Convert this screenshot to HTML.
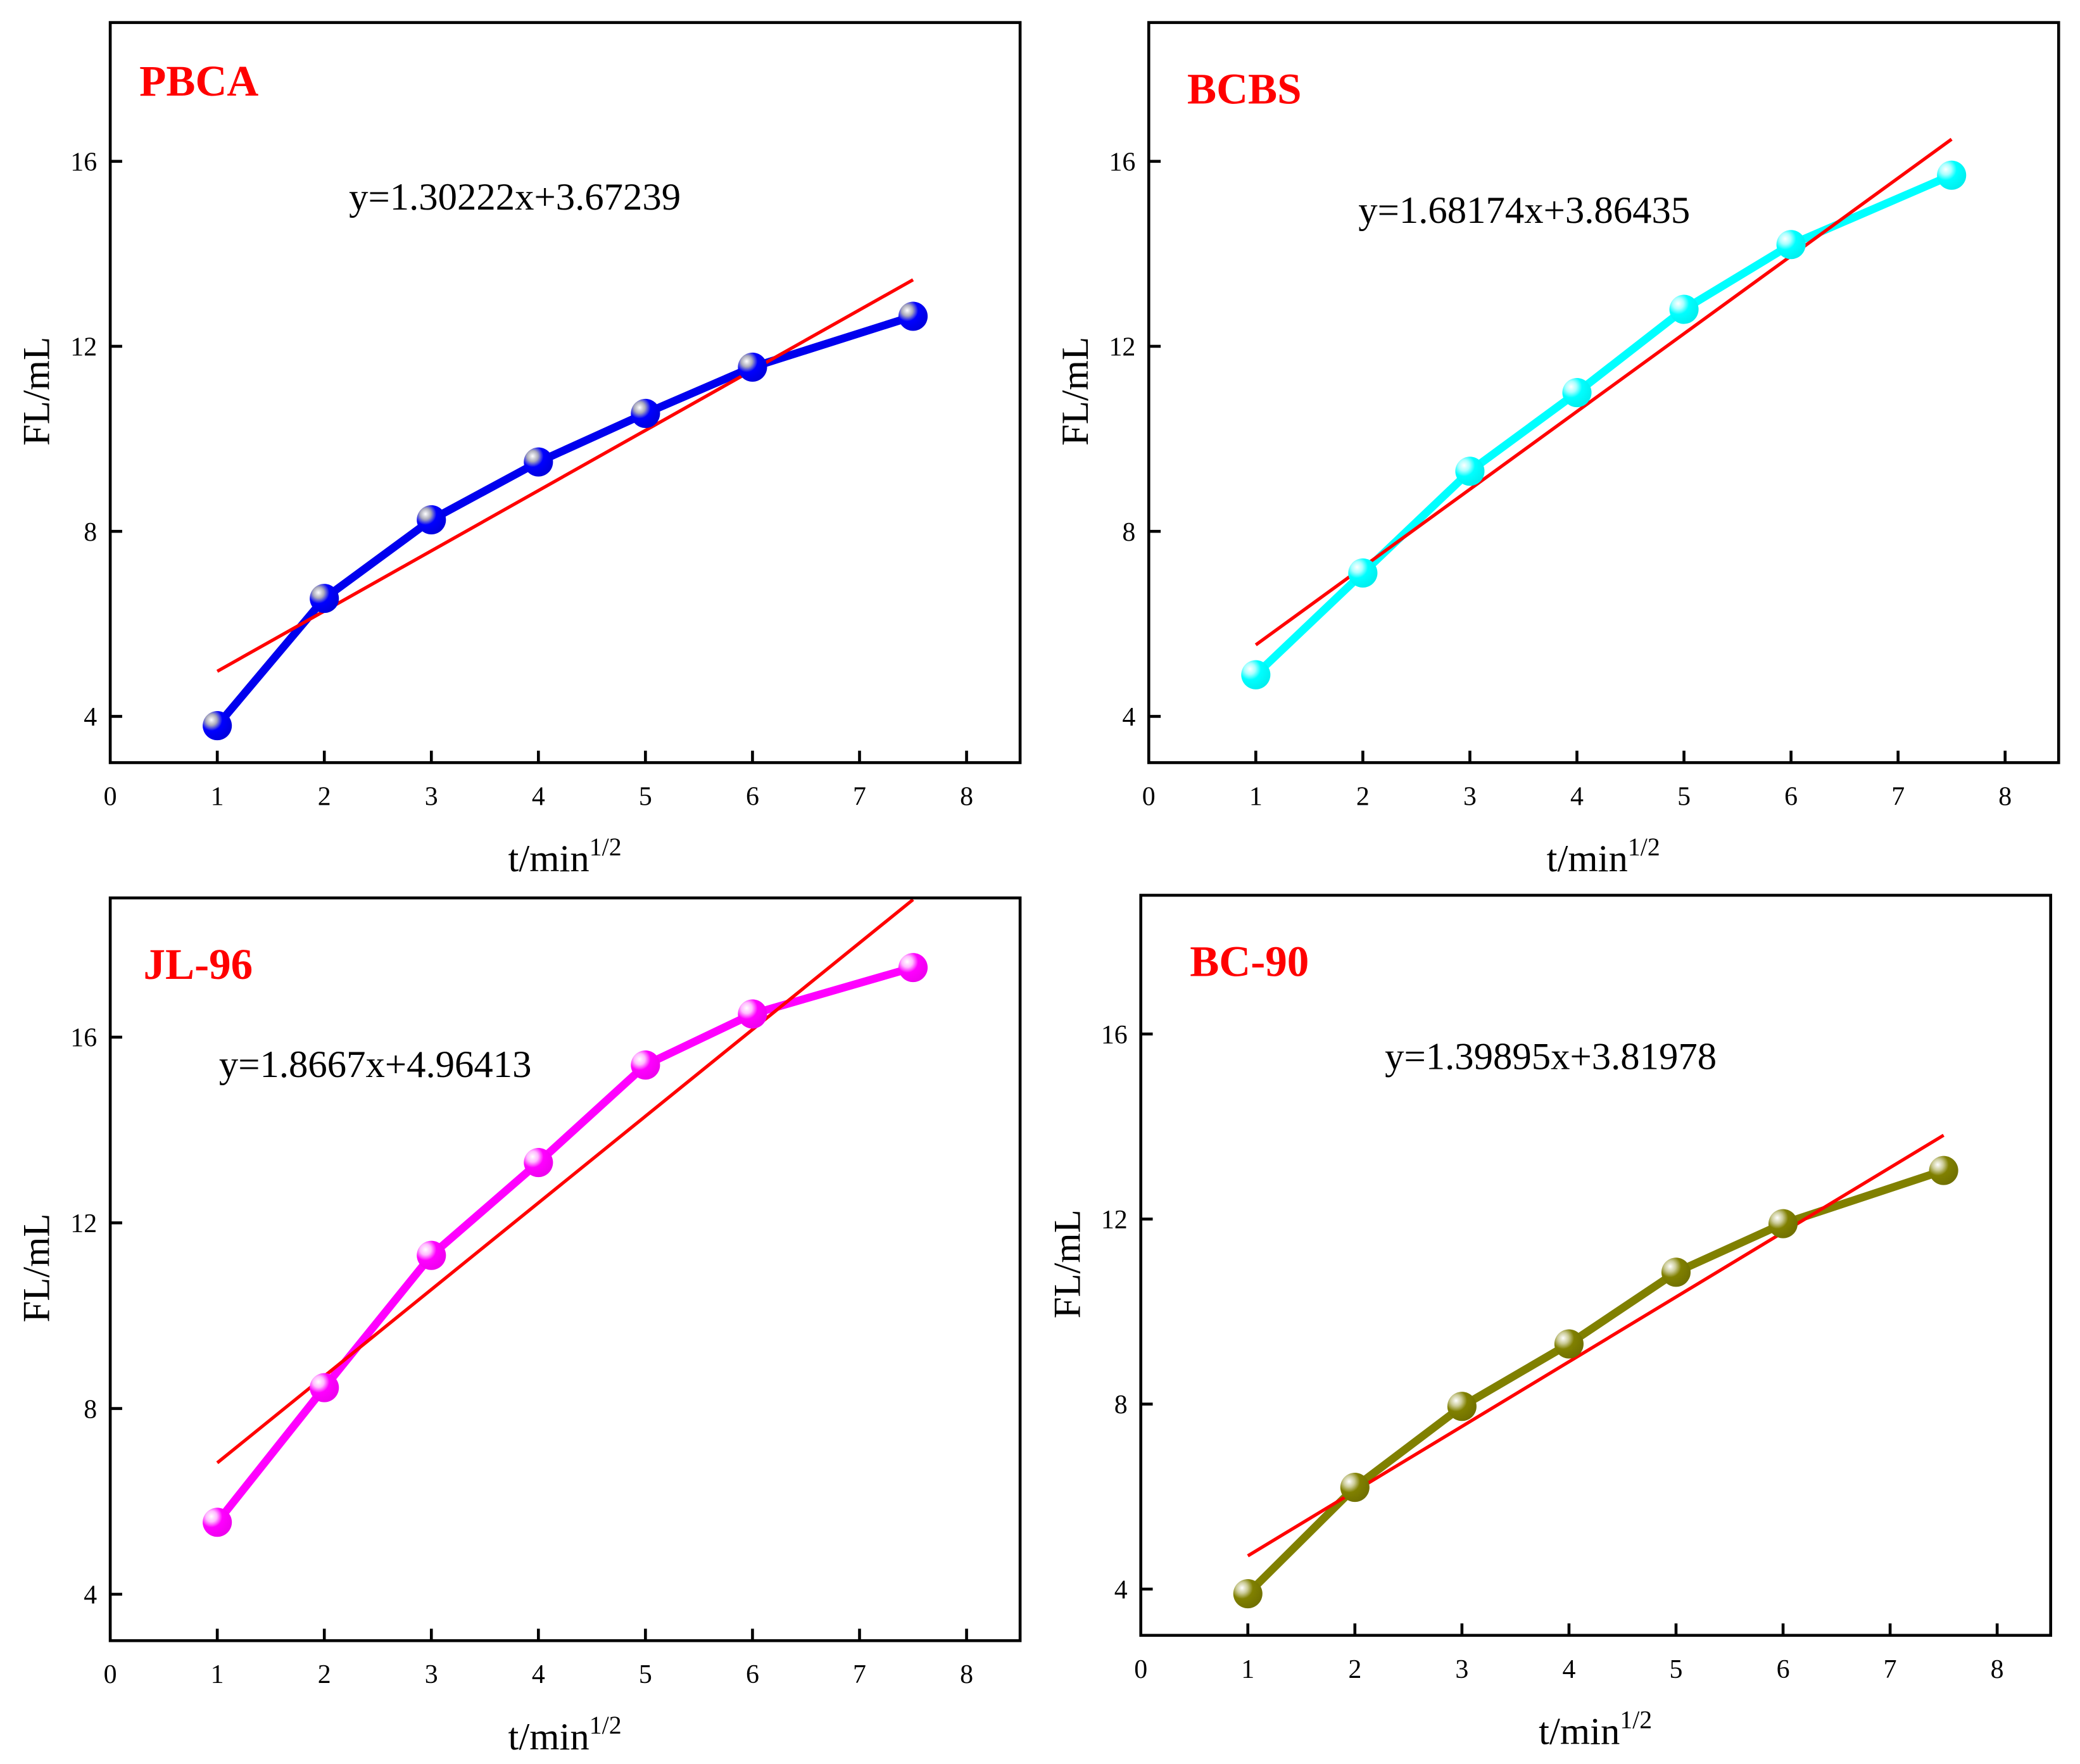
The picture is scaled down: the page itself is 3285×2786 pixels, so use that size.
<!DOCTYPE html>
<html><head><meta charset="utf-8"><style>
html,body{margin:0;padding:0;background:#fff;}
svg{display:block;}
text{font-family:"Liberation Serif",serif;}
</style></head><body>
<svg id="fig" width="3285" height="2786" viewBox="0 0 1568 1330" xmlns="http://www.w3.org/2000/svg">
<defs>
<radialGradient id="gB" cx="0.3" cy="0.3" r="0.75"><stop offset="0" stop-color="#fff"/><stop offset="0.25" stop-color="#aab" /><stop offset="0.5" stop-color="#0000ff"/><stop offset="1" stop-color="#0000dd"/></radialGradient>
<radialGradient id="gC" cx="0.3" cy="0.3" r="0.75"><stop offset="0" stop-color="#fff"/><stop offset="0.25" stop-color="#aff"/><stop offset="0.5" stop-color="#00ffff"/><stop offset="1" stop-color="#00eeee"/></radialGradient>
<radialGradient id="gM" cx="0.3" cy="0.3" r="0.75"><stop offset="0" stop-color="#fff"/><stop offset="0.25" stop-color="#fbf"/><stop offset="0.5" stop-color="#ff00ff"/><stop offset="1" stop-color="#ee00ee"/></radialGradient>
<radialGradient id="gO" cx="0.3" cy="0.3" r="0.75"><stop offset="0" stop-color="#fff"/><stop offset="0.25" stop-color="#cc9"/><stop offset="0.5" stop-color="#808000"/><stop offset="1" stop-color="#707000"/></radialGradient>
</defs>
</svg>
<script>
const xs = [1, 2, 3, 4, 5, 6, 7.5];
const pbcaValues = [3.8, 6.55, 8.25, 9.5, 10.55, 11.55, 12.65];
const bcbsValues = [4.9, 7.1, 9.3, 11.0, 12.8, 14.2, 15.7];
const jl96Values = [5.55, 8.45, 11.3, 13.3, 15.4, 16.5, 17.5];
const bc90Values = [3.9, 6.2, 7.95, 9.3, 10.85, 11.9, 13.05];
const slopes = [1.30222, 1.68174, 1.8667, 1.39895];
const intercepts = [3.67239, 3.86435, 4.96413, 3.32];
const equations = ["y=1.30222x+3.67239", "y=1.68174x+3.86435", "y=1.8667x+4.96413", "y=1.39895x+3.81978"];
const titles = ["PBCA", "BCBS", "JL-96", "BC-90"];
const xTicks = [0, 1, 2, 3, 4, 5, 6, 7, 8];
const yTicks = [4, 8, 12, 16];

const NS = "http://www.w3.org/2000/svg";
const svg = document.getElementById('fig');
function mk(tag, attrs, parent, txt) {
  const e = document.createElementNS(NS, tag);
  for (const k in attrs) e.setAttribute(k, attrs[k]);
  if (txt !== undefined) e.textContent = txt;
  parent.appendChild(e);
  return e;
}
const panels = [
  {L:83, T:17, R:769, B:575, vals:pbcaValues, col:'#0000ee', grad:'gB', tx:105, ty:72, ex:263, ey:158, name:'pbca'},
  {L:866, T:17, R:1552, B:575, vals:bcbsValues, col:'#00ffff', grad:'gC', tx:895, ty:78, ex:1024, ey:168, name:'bcbs'},
  {L:83, T:677, R:769, B:1237, vals:jl96Values, col:'#ff00ff', grad:'gM', tx:108, ty:738, ex:165, ey:812, name:'jl96'},
  {L:860, T:675, R:1546, B:1233, vals:bc90Values, col:'#808000', grad:'gO', tx:897, ty:736, ex:1044, ey:806, name:'bc90'}
];
panels.forEach((p, i) => {
  const g = mk('g', {}, svg);
  
  
  const sx = v => p.L + (v / 8.5) * (p.R - p.L);
  const sy = v => p.B - ((v - 3) / 16) * (p.B - p.T);
  const cid = 'clip' + i;
  const cp = mk('clipPath', {id: cid}, g);
  mk('rect', {x:p.L, y:p.T, width:p.R-p.L, height:p.B-p.T}, cp);
  const plot = mk('g', {'clip-path':'url(#'+cid+')'}, g);
  const pts = xs.map((x, k) => sx(x) + ',' + sy(p.vals[k])).join(' ');
  const pl = mk('polyline', {points:pts, fill:'none', stroke:p.col, 'stroke-width':6, 'stroke-linejoin':'round'}, plot);
  
  
  const x0 = xs[0], x1 = xs[xs.length-1];
  const fl = mk('line', {x1:sx(x0), y1:sy(slopes[i]*x0+intercepts[i]), x2:sx(x1), y2:sy(slopes[i]*x1+intercepts[i]), stroke:'#ff0000', 'stroke-width':2.5}, plot);
  
  
  xs.forEach((x, k) => {
    const c = mk('circle', {cx:sx(x), cy:sy(p.vals[k]), r:11, fill:'url(#'+p.grad+')'}, plot);
    
    
  });
  const fr = mk('rect', {x:p.L, y:p.T, width:p.R-p.L, height:p.B-p.T, fill:'none', stroke:'#000', 'stroke-width':2.2}, g);
  
  
  xTicks.forEach(t => {
    if (t > 0) mk('line', {x1:sx(t), y1:p.B, x2:sx(t), y2:p.B-9, stroke:'#000', 'stroke-width':2.2}, g);
    const tl = mk('text', {x:sx(t), y:p.B+32, 'font-size':20, 'text-anchor':'middle'}, g, String(t));
    
    
  });
  yTicks.forEach(t => {
    mk('line', {x1:p.L, y1:sy(t), x2:p.L+9, y2:sy(t), stroke:'#000', 'stroke-width':2.2}, g);
    const tl = mk('text', {x:p.L-10, y:sy(t)+7, 'font-size':20, 'text-anchor':'end'}, g, String(t));
    
    
  });
  const t1 = mk('text', {x:p.tx, y:p.ty, 'font-size':33, 'font-weight':'bold', fill:'#ff0000'}, g, titles[i]);
  
  
  const eq = mk('text', {x:p.ex, y:p.ey, 'font-size':29}, g, equations[i]);
  
  
  const cy = (p.T + p.B) / 2;
  const yt = mk('text', {x:0, y:0, 'font-size':29, 'text-anchor':'middle', transform:'translate('+(p.L-46)+','+(cy-1)+') rotate(-90)'}, g, 'FL/mL');
  
  
  const xt = mk('text', {x:(p.L+p.R)/2 - 43, y:p.B+82, 'font-size':29}, g);
  
  
  mk('tspan', {}, xt, 't/min');
  mk('tspan', {'font-size':19, dy:-12}, xt, '1/2');
});
</script>
</body></html>
